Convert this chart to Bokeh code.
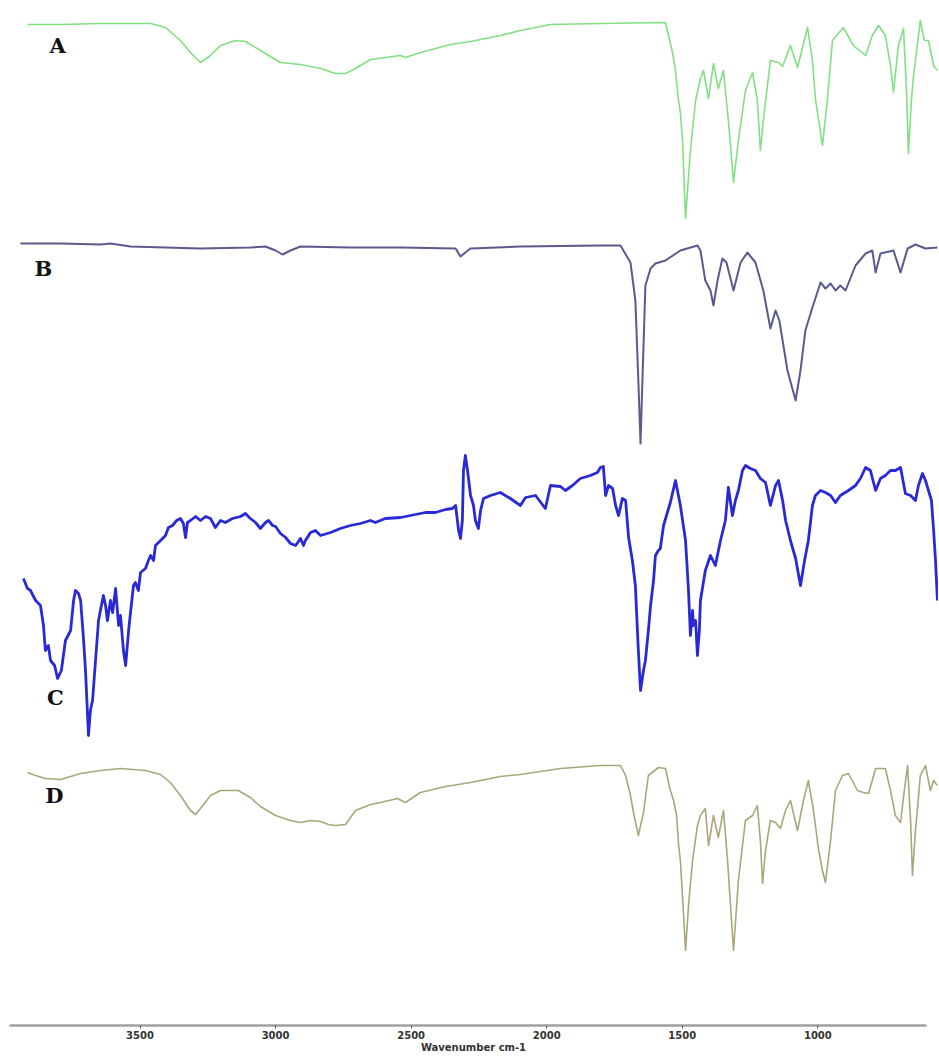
from bokeh.plotting import figure
from bokeh.models import Range1d, FixedTicker, Label
from bokeh.embed import file_html
from bokeh.resources import INLINE

# ---- Spectrum A (wavenumber cm-1, relative transmittance a.u.) ----
wn_A = [3915, 3793, 3646, 3461, 3406, 3351, 3314, 3277, 3240, 3203, 3148, 3111, 3056,
        2982, 2908, 2834, 2779, 2742, 2705, 2650, 2539, 2521, 2466, 2355, 2281, 2171,
        2097, 1986, 1802, 1562, 1536, 1525, 1514, 1507, 1499, 1488, 1470, 1451, 1433,
        1422, 1403, 1385, 1367, 1348, 1330, 1311, 1293, 1267, 1260, 1241, 1223, 1212,
        1201, 1175, 1145, 1130, 1101, 1075, 1038, 1020, 1009, 983, 965, 946, 906, 869,
        824, 799, 776, 751, 732, 721, 703, 684, 673, 666, 655, 647, 622, 607, 592, 573, 559]
t_A = [198, 198, 199, 199, 195, 182, 170, 160, 167, 177, 182, 181, 172,
       160, 158, 154, 149, 149, 154, 163, 167, 165, 170, 178, 181, 187,
       192, 198, 199, 200, 170, 152, 122, 110, 82, 4, 72, 122, 144,
       152, 124, 159, 134, 152, 102, 40, 82, 132, 137, 150, 122, 72,
       102, 162, 160, 156, 177, 155, 195, 162, 124, 77, 122, 182, 195, 177,
       167, 187, 197, 187, 157, 130, 177, 194, 132, 69, 122, 147, 202, 182, 182, 157, 152]

# ---- Spectrum B ----
wn_B = [3941, 3793, 3646, 3609, 3535, 3277, 3093, 3037, 3000, 2974, 2945, 2908, 2724,
        2539, 2336, 2318, 2300, 2281, 2097, 1802, 1728, 1691, 1673, 1662, 1654, 1647,
        1636, 1617, 1599, 1562, 1507, 1444, 1433, 1415, 1396, 1385, 1370, 1352, 1337,
        1311, 1285, 1260, 1230, 1201, 1175, 1156, 1142, 1112, 1082, 1064, 1046, 1020,
        990, 972, 953, 935, 917, 898, 861, 824, 799, 787, 769, 721, 695, 669, 640, 603, 559]
t_B = [204, 204, 203, 204, 201, 199, 200, 201, 197, 193, 197, 201, 200,
       200, 199, 191, 195, 199, 201, 202, 202, 185, 147, 67, 4, 67,
       162, 179, 184, 187, 197, 202, 197, 167, 157, 142, 167, 189, 185,
       157, 185, 195, 185, 157, 119, 137, 127, 77, 47, 77, 117, 140,
       165, 159, 164, 157, 162, 157, 182, 194, 197, 175, 194, 197, 175, 199, 203, 199, 200]

# ---- Spectrum C ----
wn_C = [3930, 3915, 3904, 3885, 3867, 3856, 3849, 3838, 3830, 3815, 3804, 3790, 3775,
        3756, 3745, 3738, 3727, 3719, 3708, 3701, 3690, 3683, 3675, 3664, 3653, 3646,
        3635, 3627, 3620, 3609, 3601, 3590, 3579, 3572, 3561, 3553, 3542, 3535, 3524,
        3517, 3506, 3498, 3480, 3469, 3461, 3450, 3443, 3424, 3406, 3395, 3380, 3365,
        3351, 3340, 3332, 3325, 3314, 3295, 3277, 3258, 3240, 3222, 3203, 3185, 3159,
        3129, 3111, 3093, 3074, 3056, 3037, 3026, 3011, 3000, 2982, 2963, 2945, 2926,
        2908, 2897, 2890, 2871, 2853, 2834, 2797, 2761, 2724, 2687, 2650, 2632, 2595,
        2539, 2502, 2447, 2410, 2373, 2348, 2336, 2325, 2318, 2311, 2307, 2300, 2292,
        2281, 2270, 2263, 2252, 2244, 2233, 2207, 2171, 2134, 2097, 2078, 2041, 2005,
        1986, 1949, 1931, 1905, 1876, 1839, 1813, 1802, 1791, 1783, 1772, 1757, 1746,
        1735, 1721, 1709, 1698, 1684, 1673, 1662, 1654, 1643, 1636, 1625, 1617, 1606,
        1599, 1588, 1581, 1569, 1555, 1544, 1525, 1507, 1488, 1477, 1470, 1462, 1459,
        1451, 1444, 1437, 1433, 1415, 1396, 1378, 1359, 1341, 1330, 1315, 1304, 1293,
        1278, 1267, 1249, 1230, 1212, 1193, 1175, 1156, 1145, 1130, 1119, 1101, 1082,
        1064, 1049, 1035, 1020, 1009, 990, 972, 953, 935, 917, 887, 861, 843, 824,
        806, 787, 769, 751, 732, 714, 695, 677, 658, 640, 629, 614, 603, 592, 581,
        573, 566, 559]
t_C = [159, 149, 147, 137, 132, 112, 87, 92, 77, 72, 59, 67, 97,
       107, 137, 147, 144, 137, 97, 67, 2, 27, 37, 77, 117, 127,
       142, 132, 117, 137, 125, 149, 112, 122, 87, 72, 107, 125, 152,
       155, 147, 165, 169, 177, 182, 177, 192, 197, 202, 210, 212, 217,
       219, 214, 200, 215, 217, 221, 217, 221, 219, 210, 217, 215, 219,
       221, 224, 219, 215, 209, 215, 217, 212, 211, 204, 200, 194, 192,
       199, 192, 197, 205, 207, 202, 205, 209, 212, 214, 217, 215, 219,
       220, 222, 225, 225, 228, 229, 232, 207, 199, 217, 267, 282, 267,
       242, 232, 217, 209, 227, 239, 242, 245, 239, 232, 240, 242, 229,
       252, 251, 247, 252, 259, 262, 265, 270, 271, 242, 252, 249, 232,
       222, 239, 237, 200, 177, 152, 87, 47, 67, 77, 107, 132, 157,
       182, 187, 189, 212, 225, 235, 257, 232, 197, 147, 102, 127, 112,
       117, 82, 107, 137, 167, 182, 172, 197, 217, 250, 222, 237, 247,
       267, 272, 269, 267, 259, 255, 232, 252, 257, 237, 217, 197, 179,
       152, 177, 197, 232, 242, 247, 245, 242, 235, 242, 247, 252, 259, 270,
       267, 247, 259, 262, 267, 267, 270, 244, 242, 237, 252, 264, 257, 247, 237,
       207, 177, 137]

# ---- Spectrum D ----
wn_D = [3915, 3885, 3849, 3793, 3719, 3646, 3572, 3480, 3424, 3388, 3351, 3314, 3295,
        3277, 3240, 3203, 3137, 3093, 3056, 3000, 2945, 2908, 2871, 2834, 2805, 2779,
        2742, 2705, 2650, 2613, 2550, 2521, 2466, 2373, 2281, 2171, 2097, 1949, 1802,
        1728, 1709, 1691, 1680, 1662, 1643, 1625, 1588, 1562, 1544, 1532, 1521, 1514,
        1507, 1496, 1488, 1477, 1462, 1444, 1433, 1415, 1403, 1385, 1367, 1348, 1333,
        1311, 1293, 1267, 1241, 1223, 1212, 1204, 1193, 1175, 1156, 1138, 1119, 1101,
        1075, 1053, 1035, 1016, 998, 983, 972, 953, 935, 909, 887, 854, 832, 813, 787,
        751, 732, 714, 695, 681, 669, 658, 651, 640, 633, 622, 603, 585, 573, 559]
t_D = [180, 177, 174, 173, 179, 182, 184, 182, 178, 170, 157, 142, 138,
       144, 157, 162, 162, 155, 146, 137, 132, 130, 132, 131, 128, 127,
       128, 142, 148, 150, 154, 150, 160, 166, 170, 176, 178, 184, 187,
       187, 177, 157, 140, 117, 140, 177, 185, 184, 162, 152, 137, 109,
       92, 42, 2, 47, 92, 127, 137, 144, 107, 137, 115, 142, 92,
       2, 72, 132, 137, 147, 112, 69, 102, 132, 130, 124, 142, 152,
       122, 152, 172, 142, 104, 82, 70, 112, 162, 177, 179, 162, 160, 159, 184,
       184, 162, 137, 130, 162, 187, 132, 77, 122, 142, 177, 187, 162, 172, 167]

labels = ["A", "B", "C", "D"]
offsets = [800, 575, 285, 70]
colors = ["#82e082", "#5a5a8e", "#2929d6", "#aaa67c"]
widths = [1.6, 2.0, 2.8, 1.6]
series = [(wn_A, t_A), (wn_B, t_B), (wn_C, t_C), (wn_D, t_D)]
label_pos = [(3804, 977), (3856, 754), (3812, 325), (3816, 227)]

tick_values = [3500, 3000, 2500, 2000, 1500, 1000]

p = figure(width=938, height=1058, output_backend="svg", toolbar_location=None,
           x_range=Range1d(3985, 555), y_range=Range1d(-3, 1014),
           min_border_left=8, min_border_right=0, min_border_top=8,
           min_border_bottom=33)
p.yaxis.visible = False
p.grid.visible = False
p.outline_line_color = None
p.background_fill_color = "white"

for (wn, t), off, c, w in zip(series, offsets, colors, widths):
    p.line([x for x in wn], [v + off for v in t], line_color=c, line_width=w,
           line_join="round")

for lab, (lx, ly) in zip(labels, label_pos):
    p.add_layout(Label(x=lx, y=ly, text=lab, text_font="DejaVu Serif",
                       text_font_style="bold", text_font_size="21px",
                       text_color="#111111", text_align="center",
                       text_baseline="middle"))

ax = p.xaxis[0]
ax.ticker = FixedTicker(ticks=tick_values)
ax.bounds = (3980, 600)
ax.axis_line_color = "#a0a0a0"
ax.axis_line_width = 2.5
ax.major_tick_in = 0
ax.major_tick_out = 3
ax.major_tick_line_color = "#555555"
ax.minor_tick_line_color = None
ax.major_label_standoff = 2
ax.major_label_text_font = "DejaVu Sans"
ax.major_label_text_font_style = "bold"
ax.major_label_text_font_size = "10px"
ax.major_label_text_color = "#333333"
ax.axis_label = "Wavenumber cm-1"
ax.axis_label_standoff = 0
ax.axis_label_text_font = "DejaVu Sans"
ax.axis_label_text_font_style = "bold"
ax.axis_label_text_font_size = "10px"
ax.axis_label_text_color = "#333333"

open("out.html", "w").write(file_html(p, INLINE))
